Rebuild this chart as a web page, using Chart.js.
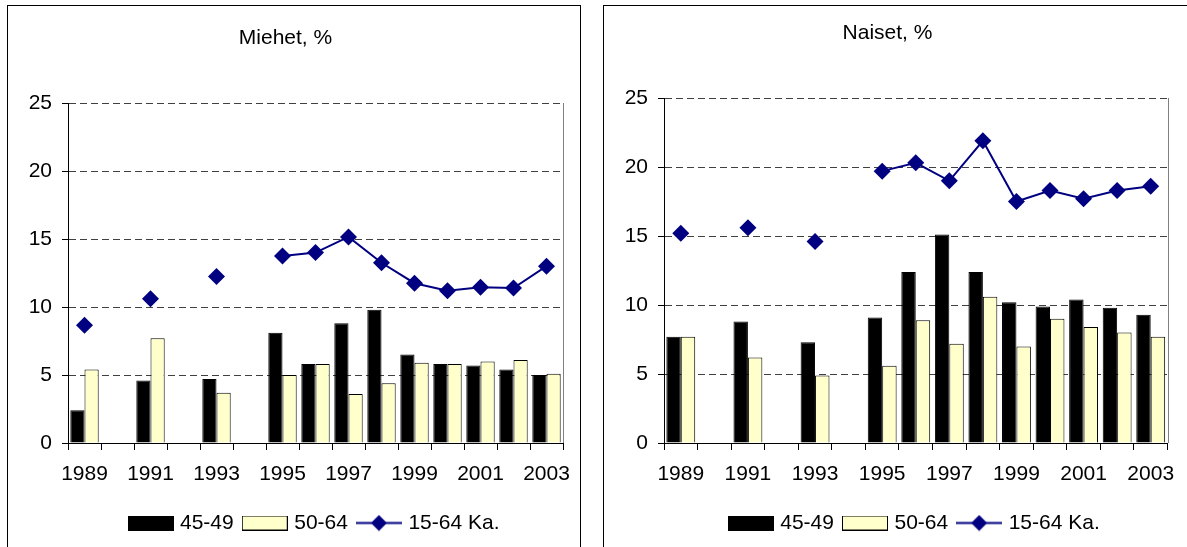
<!DOCTYPE html>
<html>
<head>
<meta charset="utf-8">
<script src="https://cdn.jsdelivr.net/npm/chart.js@4.4.1/dist/chart.umd.min.js"></script>
<style>
body { margin: 0; background: #fff; width: 1187px; height: 547px; overflow: hidden; position: relative; }
.panel { position: absolute; top: 5px; height: 600px; border: 1px solid #000; background: #fff; }
#left { left: 7px; width: 572px; }
#right { left: 603px; width: 640px; }
canvas { display: block; }
</style>
</head>
<body>
<div class="panel" id="left"><canvas id="menChart" width="572" height="541"></canvas></div>
<div class="panel" id="right"><canvas id="womenChart" width="572" height="541"></canvas></div>
<script>
// Years on the x axis (1990, 1992, 1994 have no data)
const years = ['1989', '1990', '1991', '1992', '1993', '1994', '1995', '1996', '1997', '1998', '1999', '2000', '2001', '2002', '2003'];
const seriesNames = ['45-49', '50-64', '15-64 Ka.'];

// Miehet, %
const men4549 = [2.4, null, 4.6, null, 4.7, null, 8.1, 5.8, 8.8, 9.8, 6.5, 5.8, 5.7, 5.4, 5.0];
const men5064 = [5.4, null, 7.7, null, 3.7, null, 5.0, 5.8, 3.6, 4.4, 5.9, 5.8, 6.0, 6.1, 5.1];
const menAll = [8.65, null, 10.6, null, 12.25, null, 13.75, 14.0, 15.15, 13.25, 11.75, 11.2, 11.45, 11.4, 13.0];

// Naiset, %
const women4549 = [7.7, null, 8.8, null, 7.3, null, 9.1, 12.4, 15.1, 12.4, 10.2, 9.9, 10.4, 9.8, 9.3];
const women5064 = [7.7, null, 6.2, null, 4.9, null, 5.6, 8.9, 7.2, 10.6, 7.0, 9.0, 8.4, 8.0, 7.7];
const womenAll = [15.2, null, 15.6, null, 14.6, null, 19.7, 20.3, 19.0, 21.9, 17.5, 18.3, 17.7, 18.3, 18.6];

const yMax = 25;
const yStep = 5;

const FONT = "'Liberation Sans', Arial, sans-serif";
const navy = '#000080';
const pale = '#FFFFCC';

// legend symbols drawn on small canvases
function boxIcon(fill) {
    const c = document.createElement('canvas');
    c.width = 46; c.height = 15;
    const g = c.getContext('2d');
    g.fillStyle = fill;
    g.fillRect(0.5, 0.5, 45, 14);
    g.strokeStyle = '#000';
    g.lineWidth = 1;
    g.strokeRect(0.5, 0.5, 45, 14);
    return c;
}
function lineIcon() {
    const c = document.createElement('canvas');
    c.width = 46; c.height = 17;
    const g = c.getContext('2d');
    g.strokeStyle = navy;
    g.lineWidth = 2;
    g.beginPath(); g.moveTo(0, 8.5); g.lineTo(46, 8.5); g.stroke();
    g.fillStyle = navy;
    g.beginPath(); g.moveTo(23, 0.5); g.lineTo(31, 8.5); g.lineTo(23, 16.5); g.lineTo(15, 8.5); g.closePath(); g.fill();
    return c;
}
const legendIcons = [boxIcon('#000'), boxIcon(pale), lineIcon()];

// gray right edge of the plot area
const plotFrame = {
    id: 'plotFrame',
    afterDraw(chart) {
        const a = chart.chartArea;
        const g = chart.ctx;
        g.save();
        g.strokeStyle = '#808080';
        g.lineWidth = 1;
        g.beginPath();
        g.moveTo(Math.round(a.right) + 0.5, a.top);
        g.lineTo(Math.round(a.right) + 0.5, a.bottom);
        g.stroke();
        g.restore();
    }
};

function makeChart(id, title, young, old, avg, pad) {
    const ctx = document.getElementById(id).getContext('2d');
    return new Chart(ctx, {
        type: 'bar',
        data: {
            labels: years,
            datasets: [
                {
                    label: seriesNames[0],
                    data: young,
                    backgroundColor: '#000',
                    borderColor: '#000',
                    borderWidth: 1,
                    categoryPercentage: 0.86,
                    barPercentage: 1.0,
                    order: 1
                },
                {
                    label: seriesNames[1],
                    data: old,
                    backgroundColor: pale,
                    borderColor: '#000',
                    borderWidth: 1,
                    categoryPercentage: 0.86,
                    barPercentage: 1.0,
                    order: 1
                },
                {
                    type: 'line',
                    label: seriesNames[2],
                    data: avg,
                    borderColor: navy,
                    backgroundColor: navy,
                    borderWidth: 2,
                    pointStyle: 'rectRot',
                    pointRadius: 8.5,
                    pointBackgroundColor: navy,
                    pointBorderColor: navy,
                    pointBorderWidth: 0,
                    spanGaps: false,
                    fill: false,
                    order: 0
                }
            ]
        },
        options: {
            responsive: false,
            animation: false,
            devicePixelRatio: 1,
            layout: { padding: { left: 0, right: pad.right, top: 0, bottom: 3.5 } },
            scales: {
                x: {
                    offset: true,
                    grid: { offset: true, drawOnChartArea: false, drawTicks: true, tickLength: 7, color: '#000', tickColor: '#000' },
                    border: { color: '#000', width: 1 },
                    ticks: {
                        autoSkip: false,
                        maxRotation: 0,
                        padding: 12,
                        color: '#000',
                        font: { family: FONT, size: 21 },
                        callback: (v, i) => (i % 2 === 0 ? years[i] : '')
                    },
                    afterFit(scale) {
                        scale.height = 57.5;
                        scale.paddingLeft = 0;
                        scale.paddingRight = 0;
                    }
                },
                y: {
                    min: 0,
                    max: yMax,
                    ticks: { stepSize: yStep, padding: 10, color: '#000', font: { family: FONT, size: 21 } },
                    grid: { color: '#404040', tickLength: 6, tickColor: '#000', tickBorderDash: [] },
                    border: { color: '#000', width: 1, dash: [7, 4] },
                    afterFit(scale) { scale.width = 60; }
                }
            },
            plugins: {
                tooltip: { enabled: false },
                title: {
                    display: true,
                    text: title,
                    color: '#000',
                    font: { family: FONT, size: 21, weight: 'normal' },
                    padding: { top: pad.titleTop, bottom: pad.titleBottom }
                },
                legend: {
                    position: 'bottom',
                    fullSize: false,
                    labels: {
                        usePointStyle: true,
                        pointStyleWidth: 38,
                        padding: 12,
                        color: '#000',
                        font: { family: FONT, size: 21 },
                        sort: (a, b) => a.datasetIndex - b.datasetIndex,
                        generateLabels(chart) {
                            const items = Chart.defaults.plugins.legend.labels.generateLabels(chart);
                            items.forEach(it => { it.pointStyle = legendIcons[it.datasetIndex]; });
                            return items;
                        }
                    }
                }
            }
        },
        plugins: [plotFrame]
    });
}

makeChart('menChart', 'Miehet, %', men4549, men5064, menAll, { right: 17, titleTop: 19.4, titleBottom: 52.4 });
makeChart('womenChart', 'Naiset, %', women4549, women5064, womenAll, { right: 5, titleTop: 14.4, titleBottom: 52.4 });
</script>
</body>
</html>
